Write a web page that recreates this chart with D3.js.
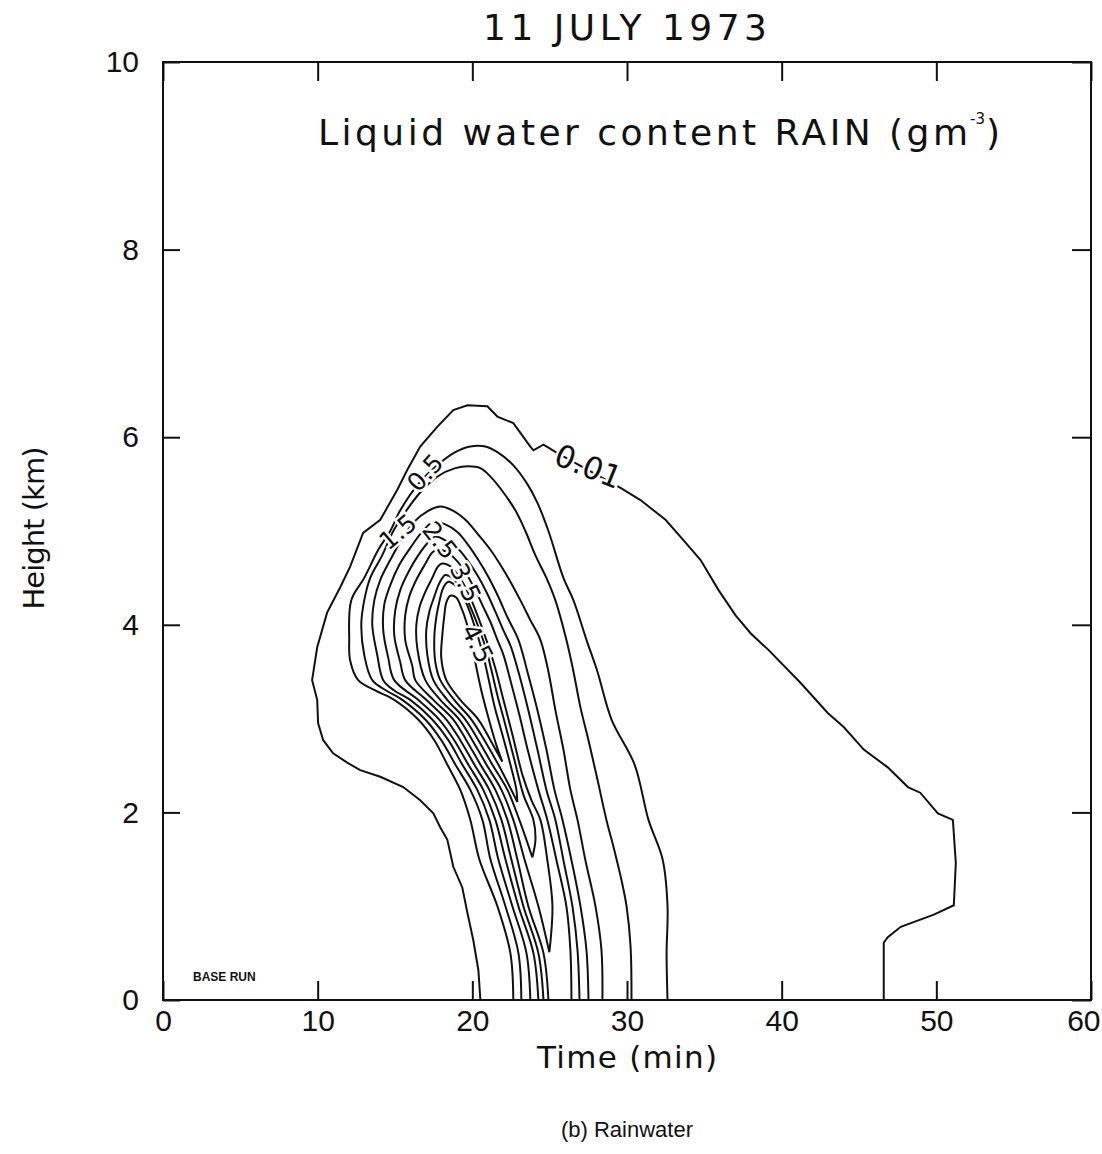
<!DOCTYPE html>
<html>
<head>
<meta charset="utf-8">
<script src="https://cdn.jsdelivr.net/npm/d3@7"></script>
<style>
  body { margin: 0; background: #fff; }
</style>
</head>
<body>
<svg id="chart" width="1102" height="1154"></svg>
<script>
// axis ticks
const xTicks = [0, 10, 20, 30, 40, 50, 60];
const yTicks = [0, 2, 4, 6, 8, 10];

// contours of rain water content, [time (min), height (km)]
const rain001 = [[20.52,0],[20.39,0.32],[20.06,0.64],[19.68,0.93],[19.35,1.20],[18.77,1.42],[18.38,1.71],[17.93,1.84],[17.48,1.99],[16.63,2.13],[15.53,2.27],[14.05,2.38],[12.75,2.45],[11.91,2.53],[11.0,2.63],[10.36,2.77],[10.03,2.95],[9.97,3.20],[9.64,3.41],[9.97,3.76],[10.61,4.13],[11.46,4.40],[12.10,4.62],[12.94,4.98],[14.05,5.12],[15.15,5.44],[15.79,5.65],[16.63,5.90],[17.73,6.11],[18.77,6.29],[19.68,6.34],[20.97,6.33],[21.62,6.22],[22.65,6.15],[23.75,5.90],[23.95,5.86],[24.6,5.92],[25.5,5.83],[29.58,5.46],[30.87,5.33],[32.49,5.12],[33.66,4.90],[34.76,4.69],[35.92,4.37],[37.02,4.10],[37.99,3.91],[39.16,3.73],[41.23,3.38],[42.98,3.06],[44.01,2.91],[45.31,2.67],[46.86,2.48],[48.16,2.27],[48.96,2.21],[50.10,1.99],[51.07,1.92],[51.26,1.46],[51.13,1.01],[49.84,0.91],[47.70,0.78],[46.86,0.67],[46.60,0.61],[46.60,0]];

const rain05 = [[22.65,0],[22.46,0.50],[21.62,1.00],[20.45,1.50],[19.87,1.92],[19.22,2.24],[18.38,2.51],[17.54,2.77],[16.50,2.99],[14.95,3.20],[13.72,3.30],[12.62,3.41],[12.10,3.62],[12.04,3.84],[12.17,4.26],[13.01,4.50],[13.92,4.80],[14.69,5.00],[15.34,5.22],[16.50,5.50],[17.73,5.70],[18.90,5.84],[19.87,5.90],[20.84,5.90],[21.62,5.84],[22.65,5.70],[23.56,5.50],[24.21,5.30],[24.92,5.00],[25.89,4.50],[26.54,4.26],[27.38,3.84],[28.09,3.50],[29.00,2.99],[30.49,2.51],[31.39,1.92],[32.30,1.50],[32.62,1.00],[32.56,0.50],[32.62,0]];

const rain10 = [[23.17,0],[22.98,0.50],[22.14,1.00],[21.17,1.50],[20.65,1.92],[19.87,2.24],[18.90,2.51],[17.99,2.77],[16.96,2.99],[15.47,3.20],[14.43,3.30],[13.53,3.41],[13.01,3.68],[12.82,4.00],[13.01,4.26],[13.40,4.50],[14.17,4.74],[14.89,5.00],[15.66,5.20],[16.63,5.41],[17.73,5.58],[18.90,5.67],[19.74,5.69],[20.52,5.67],[21.17,5.58],[21.88,5.44],[22.78,5.22],[23.43,5.00],[24.08,4.74],[24.79,4.50],[25.37,4.26],[26.08,3.84],[26.54,3.50],[26.99,3.12],[27.51,2.77],[28.09,2.35],[28.67,1.92],[29.13,1.63],[29.64,1.28],[29.97,1.00],[30.23,0.57],[30.29,0]];

const rain15 = [[23.75,0],[23.50,0.50],[22.59,1.00],[21.68,1.50],[21.10,1.92],[20.32,2.24],[19.35,2.51],[18.45,2.77],[17.41,2.99],[15.99,3.20],[14.95,3.30],[14.24,3.41],[13.85,3.68],[13.53,4.00],[13.66,4.26],[14.05,4.48],[14.69,4.69],[15.40,4.90],[16.25,5.10],[17.09,5.21],[17.93,5.26],[18.71,5.22],[19.55,5.12],[20.39,4.96],[21.17,4.80],[21.81,4.64],[22.46,4.46],[23.11,4.26],[23.75,4.05],[24.40,3.84],[24.92,3.50],[25.37,3.09],[25.89,2.67],[26.34,2.24],[26.80,1.92],[27.31,1.49],[27.96,1.00],[28.35,0.53],[28.41,0]];

const rain20 = [[24.27,0],[23.95,0.50],[22.98,1.00],[22.14,1.50],[21.49,1.92],[20.71,2.24],[19.74,2.51],[18.83,2.77],[17.86,2.99],[16.50,3.20],[14.95,3.41],[14.56,3.65],[14.24,3.94],[14.30,4.21],[14.69,4.42],[15.28,4.64],[15.99,4.82],[16.70,4.98],[17.48,5.10],[18.25,5.07],[19.03,4.99],[19.74,4.85],[20.39,4.69],[21.04,4.51],[21.62,4.32],[22.27,4.08],[22.98,3.84],[23.56,3.50],[24.21,3.09],[24.79,2.67],[25.31,2.24],[25.83,1.92],[26.41,1.49],[26.99,1.00],[27.38,0.53],[27.51,0]];

const rain25 = [[24.60,0],[24.27,0.50],[23.30,1.00],[22.52,1.50],[21.88,1.92],[21.10,2.24],[20.13,2.51],[19.22,2.77],[18.32,2.99],[17.02,3.20],[15.66,3.41],[15.34,3.60],[14.95,3.89],[15.02,4.16],[15.34,4.37],[15.86,4.56],[16.50,4.74],[17.15,4.88],[17.61,4.94],[18.25,4.90],[19.03,4.82],[19.68,4.69],[20.32,4.53],[20.91,4.35],[21.49,4.14],[22.01,3.94],[22.46,3.78],[22.98,3.50],[23.62,3.09],[24.21,2.67],[24.79,2.24],[25.37,1.92],[25.89,1.49],[26.47,1.00],[26.80,0.53],[26.93,0]];

const rain30 = [[24.92,0],[24.60,0.50],[23.62,1.00],[22.91,1.50],[22.27,1.92],[21.49,2.24],[20.52,2.51],[19.61,2.77],[18.77,2.99],[17.48,3.20],[16.31,3.41],[16.12,3.56],[15.66,3.84],[15.66,4.10],[15.92,4.30],[16.38,4.48],[16.96,4.65],[17.41,4.77],[17.73,4.80],[18.32,4.78],[18.96,4.69],[19.55,4.56],[20.13,4.39],[20.65,4.21],[21.17,4.03],[21.62,3.84],[22.01,3.68],[22.46,3.41],[23.04,3.04],[23.62,2.64],[24.27,2.24],[24.85,1.92],[25.44,1.49],[26.08,1.00],[26.34,0.53],[26.41,0]];

// closed tongues, starting and ending at the lower tip
const rain35 = [[24.98,0.51],[24.27,1.00],[23.37,1.50],[22.65,1.92],[21.88,2.24],[20.91,2.51],[20.00,2.77],[19.16,2.99],[17.93,3.20],[16.96,3.41],[16.44,3.75],[16.38,4.00],[16.57,4.18],[16.96,4.35],[17.41,4.50],[17.73,4.61],[17.99,4.65],[18.51,4.63],[19.03,4.54],[19.55,4.40],[20.00,4.24],[20.45,4.05],[20.84,3.87],[21.17,3.71],[21.55,3.50],[22.01,3.20],[22.59,2.83],[23.24,2.40],[23.82,2.13],[24.40,1.92],[24.85,1.49],[25.18,1.00],[24.98,0.51]];

const rain40 = [[23.88,1.52],[23.04,1.92],[22.27,2.24],[21.29,2.51],[20.39,2.77],[19.55,2.99],[18.38,3.20],[17.48,3.41],[17.09,3.68],[17.02,3.94],[17.22,4.14],[17.54,4.30],[17.80,4.42],[18.06,4.50],[18.25,4.53],[18.71,4.50],[19.22,4.39],[19.68,4.26],[20.13,4.09],[20.52,3.92],[20.91,3.73],[21.23,3.52],[21.62,3.25],[22.14,2.93],[22.72,2.56],[23.30,2.19],[23.95,1.92],[24.08,1.71],[23.88,1.52]];

const rain45 = [[22.91,2.11],[21.68,2.51],[20.78,2.77],[19.94,2.99],[18.83,3.20],[17.93,3.41],[17.61,3.60],[17.54,3.86],[17.67,4.08],[17.86,4.24],[18.06,4.37],[18.25,4.43],[18.45,4.46],[18.90,4.42],[19.35,4.32],[19.74,4.18],[20.06,4.03],[20.39,3.86],[20.71,3.67],[21.04,3.43],[21.42,3.14],[21.94,2.83],[22.46,2.51],[22.85,2.24],[22.91,2.11]];

const rain50 = [[21.94,2.54],[21.17,2.77],[20.39,2.99],[19.22,3.20],[18.32,3.41],[17.99,3.65],[18.06,3.89],[18.19,4.10],[18.32,4.24],[18.58,4.31],[18.96,4.29],[19.29,4.18],[19.61,4.03],[19.87,3.84],[20.19,3.60],[20.58,3.30],[21.04,3.01],[21.55,2.72],[21.94,2.54]];

// contour labels
const labelText = ["0.01", "0.5", "1.5", "2.5", "3.5", "4.5"];
const labelTime = [27.51, 16.96, 15.20, 17.90, 19.55, 20.32];
const labelHeight = [5.69, 5.62, 4.99, 4.90, 4.45, 3.80];
const labelAngle = [22, -48, -40, 52, 65, 63];

const svg = d3.select("#chart");
const x = d3.scaleLinear().domain([0, 60]).range([163, 1091]);
const y = d3.scaleLinear().domain([0, 10]).range([1000, 62]);

const ink = "#111";

// contour lines
const outerLine = d3.line().x(d => x(d[0])).y(d => y(d[1]));
const innerLine = d3.line().x(d => x(d[0])).y(d => y(d[1])).curve(d3.curveCatmullRom.alpha(0.5));

svg.append("path")
  .attr("d", outerLine(rain001))
  .attr("fill", "none")
  .attr("stroke", ink)
  .attr("stroke-width", 2);

const inner = [rain05, rain10, rain15, rain20, rain25, rain30, rain35, rain40, rain45, rain50];
svg.selectAll(".contour")
  .data(inner)
  .enter()
  .append("path")
  .attr("class", "contour")
  .attr("d", d => innerLine(d))
  .attr("fill", "none")
  .attr("stroke", ink)
  .attr("stroke-width", 2)
  .attr("stroke-linejoin", "round");

// labels sit on a white halo so the lines break around them
labelText.forEach((t, i) => {
  svg.append("text")
    .attr("transform", `translate(${x(labelTime[i])},${y(labelHeight[i])}) rotate(${labelAngle[i]})`)
    .attr("text-anchor", "middle")
    .attr("dominant-baseline", "central")
    .style("font-family", "DejaVu Sans")
    .style("font-size", i === 0 ? "31px" : "25px")
    .attr("fill", ink)
    .attr("stroke", "#fff")
    .attr("stroke-width", 5)
    .attr("paint-order", "stroke")
    .text(t);
});

// frame
svg.append("rect")
  .attr("x", x(0)).attr("y", y(10))
  .attr("width", x(60) - x(0)).attr("height", y(0) - y(10))
  .attr("fill", "none")
  .attr("stroke", ink)
  .attr("stroke-width", 2);

// axes with inward ticks
const tickFont = g => g.selectAll("text")
  .style("font-family", "Liberation Sans")
  .style("font-size", "30px")
  .attr("fill", ink);

const xAxis = svg.append("g")
  .attr("transform", `translate(0,${y(0)})`)
  .call(d3.axisBottom(x).tickValues(xTicks).tickSize(-19).tickPadding(10).tickFormat(d3.format("d")))
  .call(tickFont);
xAxis.selectAll(".tick text").filter(d => d === 60)
  .attr("text-anchor", "end")
  .attr("dx", 9);

const yAxis = svg.append("g")
  .attr("transform", `translate(${x(0)},0)`)
  .call(d3.axisLeft(y).tickValues(yTicks).tickSize(-17).tickPadding(24).tickFormat(d3.format("d")))
  .call(tickFont);
const xTop = svg.append("g")
  .attr("transform", `translate(0,${y(10)})`)
  .call(d3.axisTop(x).tickValues(xTicks).tickSize(-19).tickFormat(""));
const yRight = svg.append("g")
  .attr("transform", `translate(${x(60)},0)`)
  .call(d3.axisRight(y).tickValues(yTicks).tickSize(-19).tickFormat(""));

[xAxis, yAxis, xTop, yRight].forEach(a => {
  a.select(".domain").remove();
  a.selectAll("line").attr("stroke", ink).attr("stroke-width", 2);
});

// titles
svg.append("text")
  .attr("x", 625).attr("y", 40)
  .attr("text-anchor", "middle")
  .attr("textLength", 284).attr("lengthAdjust", "spacing")
  .style("font-family", "DejaVu Sans").style("font-size", "36px")
  .attr("fill", ink)
  .text("11 JULY 1973");

svg.append("text")
  .attr("x", 318).attr("y", 145)
  .attr("textLength", 650).attr("lengthAdjust", "spacing")
  .style("font-family", "DejaVu Sans").style("font-size", "36px")
  .attr("fill", ink)
  .text("Liquid water content RAIN (gm");
svg.append("text")
  .attr("x", 970).attr("y", 124)
  .style("font-family", "DejaVu Sans").style("font-size", "15px")
  .attr("fill", ink)
  .text("-3");
svg.append("text")
  .attr("x", 986).attr("y", 145)
  .style("font-family", "DejaVu Sans").style("font-size", "36px")
  .attr("fill", ink)
  .text(")");

svg.append("text")
  .attr("x", 627).attr("y", 1068)
  .attr("text-anchor", "middle")
  .attr("textLength", 180).attr("lengthAdjust", "spacing")
  .style("font-family", "DejaVu Sans").style("font-size", "31px")
  .attr("fill", ink)
  .text("Time (min)");

svg.append("text")
  .attr("transform", "translate(44,528) rotate(-90)")
  .attr("text-anchor", "middle")
  .attr("textLength", 163).attr("lengthAdjust", "spacing")
  .style("font-family", "DejaVu Sans").style("font-size", "29px")
  .attr("fill", ink)
  .text("Height (km)");

svg.append("text")
  .attr("x", 193).attr("y", 981)
  .style("font-family", "Liberation Sans").style("font-size", "12px")
  .style("font-weight", "bold")
  .attr("fill", ink)
  .text("BASE RUN");

svg.append("text")
  .attr("x", 627).attr("y", 1137)
  .attr("text-anchor", "middle")
  .style("font-family", "Liberation Sans").style("font-size", "22px")
  .attr("fill", ink)
  .text("(b) Rainwater");
</script>
</body>
</html>
